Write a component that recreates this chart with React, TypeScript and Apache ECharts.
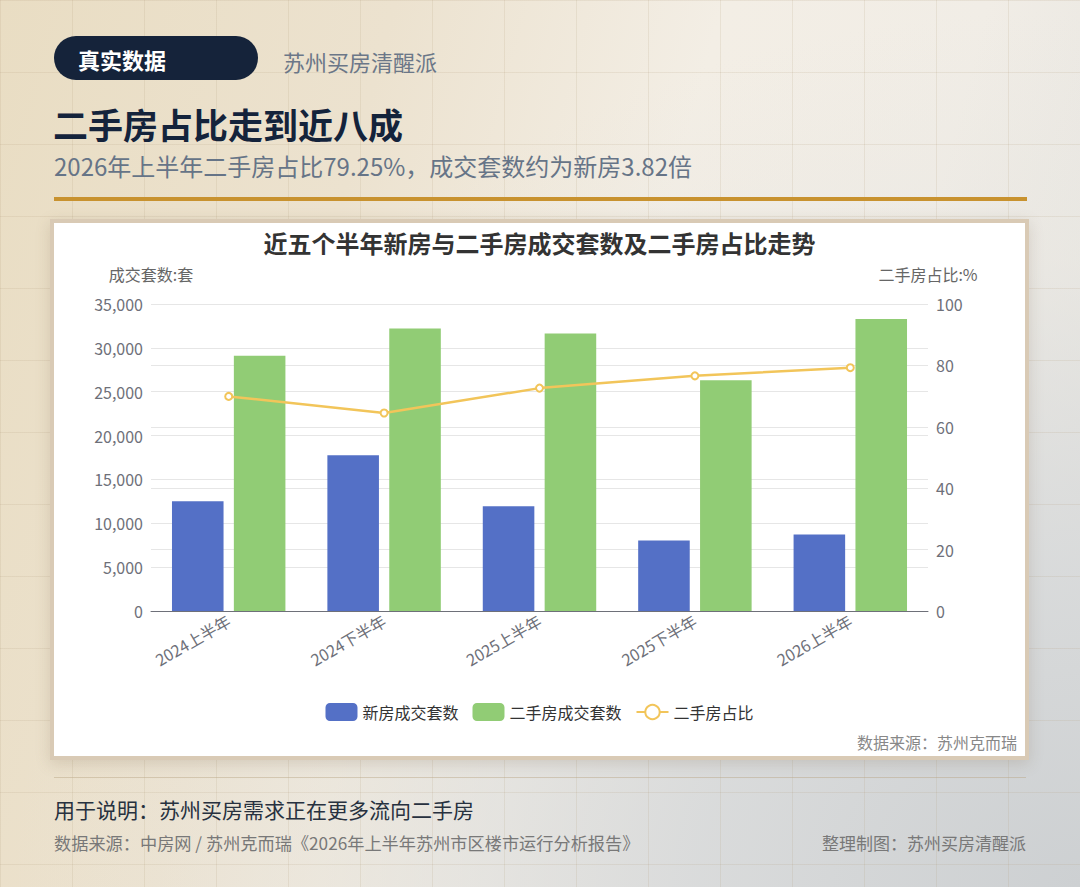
import React, { useEffect, useRef } from "react";
import * as echarts from "echarts";

const categories = ["2024上半年", "2024下半年", "2025上半年", "2025下半年", "2026上半年"];
const newHomeDeals = [12500, 17750, 11950, 8050, 8720];
const resaleDeals = [29100, 32200, 31650, 26300, 33300];
const resaleShare = [69.9, 64.5, 72.6, 76.6, 79.25];
const leftTicks = { min: 0, max: 35000, interval: 5000 };
const rightTicks = { min: 0, max: 100, interval: 20 };

const FONT = '"Noto Sans CJK SC", "Noto Sans", sans-serif';

function Chart() {
  const ref = useRef<HTMLDivElement>(null);
  useEffect(() => {
    if (!ref.current) return;
    const chart = echarts.init(ref.current, null, { renderer: "svg" });
    chart.setOption({
      animation: false,
      textStyle: { fontFamily: FONT },
      color: ["#5470c6", "#91cc75", "#f2c55a"],
      title: {
        text: "近五个半年新房与二手房成交套数及二手房占比走势",
        left: "center",
        top: 2,
        textStyle: { fontSize: 24, fontWeight: "bold", color: "#333", fontFamily: FONT },
      },
      legend: {
        top: 475,
        left: "center",
        itemWidth: 32,
        itemHeight: 18,
        itemGap: 14,
        textStyle: { fontSize: 16, color: "#333", fontFamily: FONT },
        data: ["新房成交套数", "二手房成交套数", "二手房占比"],
      },
      grid: { left: 97, right: 97, top: 81, bottom: 146, containLabel: false },
      xAxis: {
        type: "category",
        data: categories,
        axisLine: { lineStyle: { color: "#6e7079" } },
        axisTick: { lineStyle: { color: "#6e7079" } },
        axisLabel: { rotate: 30, interval: 0, fontSize: 16, color: "#6e7079", fontFamily: FONT },
      },
      yAxis: [
        {
          type: "value",
          name: "成交套数:套",
          nameGap: 22,
          nameTextStyle: { fontSize: 16, color: "#666", fontFamily: FONT },
          min: leftTicks.min,
          max: leftTicks.max,
          interval: leftTicks.interval,
          axisLabel: {
            fontSize: 16,
            color: "#6e7079",
            fontFamily: FONT,
            formatter: (v: number) => v.toLocaleString("en-US"),
          },
          splitLine: { lineStyle: { color: "#e6e6e6" } },
        },
        {
          type: "value",
          name: "二手房占比:%",
          nameGap: 22,
          nameTextStyle: { fontSize: 16, color: "#666", fontFamily: FONT },
          min: rightTicks.min,
          max: rightTicks.max,
          interval: rightTicks.interval,
          axisLabel: { fontSize: 16, color: "#6e7079", fontFamily: FONT },
          splitLine: { lineStyle: { color: "#e6e6e6" } },
        },
      ],
      graphic: [
        {
          type: "text",
          right: 8,
          bottom: 7,
          style: {
            text: "数据来源：苏州克而瑞",
            fontSize: 16,
            fill: "#888",
            fontFamily: FONT,
          },
        },
      ],
      series: [
        {
          name: "新房成交套数",
          type: "bar",
          data: newHomeDeals,
          barCategoryGap: "27%",
          barGap: "20%",
        },
        {
          name: "二手房成交套数",
          type: "bar",
          data: resaleDeals,
          barCategoryGap: "27%",
          barGap: "20%",
        },
        {
          name: "二手房占比",
          type: "line",
          yAxisIndex: 1,
          data: resaleShare,
          symbol: "emptyCircle",
          symbolSize: 7,
          lineStyle: { width: 2.5, color: "#f2c55a" },
          itemStyle: { color: "#f2c55a", borderWidth: 2 },
        },
      ],
    });
    return () => chart.dispose();
  }, []);
  return <div ref={ref} style={{ width: 971, height: 534 }} />;
}

export default function App() {
  const gridLine = "rgba(175,155,120,0.16)";
  return (
    <div
      style={{
        position: "absolute",
        left: 0,
        top: 0,
        width: 1080,
        height: 887,
        overflow: "hidden",
        fontFamily: FONT,
        backgroundColor: "#ece3d0",
        backgroundImage: `linear-gradient(${gridLine} 1px, transparent 1px), linear-gradient(90deg, ${gridLine} 1px, transparent 1px), radial-gradient(ellipse at 100% 100%, rgba(205,208,210,1) 0%, rgba(215,217,218,0.9) 25%, rgba(230,229,225,0.4) 50%, rgba(240,236,228,0) 70%), linear-gradient(105deg, #e9ddc3 0%, #ece2cf 30%, #f3eee5 55%, #f1ede6 75%, #e4e3df 100%)`,
        backgroundSize: "72px 72px, 72px 72px, 100% 100%, 100% 100%",
      }}
    >
      <div
        style={{
          position: "absolute",
          left: 54,
          top: 36,
          width: 204,
          height: 44,
          borderRadius: 22,
          background: "#15233a",
          color: "#fff",
          fontWeight: "bold",
          fontSize: 22,
          lineHeight: "46px",
          paddingLeft: 24,
          boxSizing: "border-box",
        }}
      >
        真实数据
      </div>
      <div style={{ position: "absolute", left: 283, top: 44, fontSize: 22, lineHeight: "34px", color: "#6b7788" }}>
        苏州买房清醒派
      </div>
      <div
        style={{
          position: "absolute",
          left: 53,
          top: 102,
          fontSize: 35,
          fontWeight: "bold",
          lineHeight: "44px",
          color: "#14233b",
        }}
      >
        二手房占比走到近八成
      </div>
      <div style={{ position: "absolute", left: 54, top: 150, fontSize: 24, lineHeight: "32px", color: "#667487" }}>
        2026年上半年二手房占比79.25%，成交套数约为新房3.82倍
      </div>
      <div style={{ position: "absolute", left: 54, top: 197, width: 973, height: 4, background: "#c8922f" }} />

      <div
        style={{
          position: "absolute",
          left: 50,
          top: 219,
          width: 979,
          height: 541,
          boxSizing: "border-box",
          border: "4px solid #d9cab5",
          background: "#fff",
          boxShadow: "0 4px 14px rgba(110,90,60,0.18)",
        }}
      >
        <Chart />
      </div>

      <div style={{ position: "absolute", left: 54, top: 777, width: 972, height: 1, background: "rgba(185,165,130,0.45)" }} />

      <div style={{ position: "absolute", left: 54, top: 794, fontSize: 21, lineHeight: "30px", color: "#27313f" }}>
        用于说明：苏州买房需求正在更多流向二手房
      </div>
      <div style={{ position: "absolute", left: 54, top: 831, fontSize: 17.2, lineHeight: "24px", color: "#787878" }}>
        数据来源：中房网 / 苏州克而瑞《2026年上半年苏州市区楼市运行分析报告》
      </div>
      <div
        style={{
          position: "absolute",
          right: 54,
          top: 831,
          fontSize: 17,
          lineHeight: "24px",
          color: "#787878",
          textAlign: "right",
        }}
      >
        整理制图：苏州买房清醒派
      </div>
    </div>
  );
}
